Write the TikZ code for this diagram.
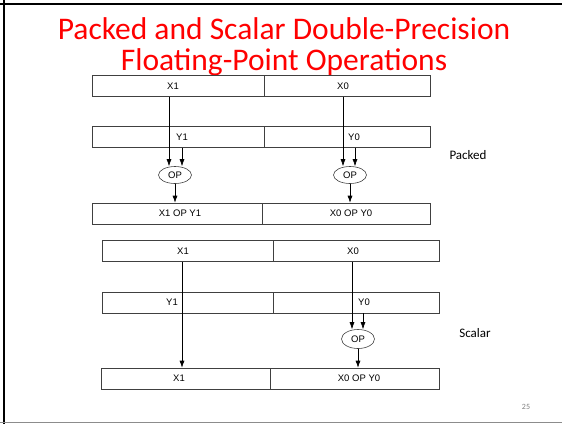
\documentclass[tikz,border=0pt]{standalone}
\usepackage{fontspec}
\setmainfont{Liberation Sans}
\newfontfamily\slidefont{Carlito}
\usetikzlibrary{shapes,arrows.meta}

\begin{document}
\begin{tikzpicture}[x=1pt,y=-1pt,
	cell/.style={draw=black!75,line width=0.6pt,minimum height=21pt,inner sep=0pt},
	celltext/.style={font=\fontsize{9.5}{11}\selectfont},
	opnode/.style={draw=black!75,line width=0.6pt,ellipse,minimum width=33pt,minimum height=17pt,inner sep=0pt,font=\fontsize{9.5}{11}\selectfont},
	arr/.style={line width=0.6pt,-{Latex[length=7pt,width=5pt]}}]
		\useasboundingbox (0,0) rectangle (562,424);
		\draw[line width=2pt] (0,3.7) -- (562,3.7);
		\draw[line width=2pt] (3.7,0) -- (3.7,424);
		\draw[line width=1.5pt,black!45] (0,422.7) -- (562,422.7);
		\node[anchor=base,red,font=\slidefont\fontsize{31.5}{34}\selectfont] (title1) at (284,39) {Packed and Scalar Double-Precision};
		\node[anchor=base,red,font=\slidefont\fontsize{31.5}{34}\selectfont] (title2) at (284,70) {Floating-Point Operations};
		\node[cell,minimum width=172pt] (px1) at (178,86) {};
		\node[cell,minimum width=166pt] (px0) at (347,86) {};
		\node[cell,minimum width=172pt] (py1) at (178,137) {};
		\node[cell,minimum width=166pt] (py0) at (347,137) {};
		\node[celltext] (tx1) at ([xshift=-5pt]px1.center) {X1};
		\node[celltext] (tx0) at ([xshift=-4pt]px0.center) {X0};
		\node[celltext] (ty1) at ([xshift=4pt]py1.center) {Y1};
		\node[celltext] (ty0) at ([xshift=7pt]py0.center) {Y0};
		\node[opnode] (opl) at (175,175) {OP};
		\node[opnode] (opr) at (350,175) {OP};
		\node[cell,minimum width=170pt] (pr1) at (177,213.5) {};
		\node[cell,minimum width=168pt] (pr0) at (346,213.5) {};
		\node[celltext] (tr1) at ([xshift=3pt]pr1.center) {X1 OP Y1};
		\node[celltext] (tr0) at ([xshift=5pt]pr0.center) {X0 OP Y0};
		\coordinate (a1) at ([xshift=-6pt]opl.north);
		\coordinate (b1) at ([xshift=7pt]opl.north);
		\coordinate (a0) at ([xshift=-7pt]opr.north);
		\coordinate (b0) at ([xshift=5pt]opr.north);
		\draw[arr] (a1 |- px1.south) -- (a1);
		\draw[arr] (b1 |- py1.south) -- (b1);
		\draw[arr] (a0 |- px0.south) -- (a0);
		\draw[arr] (b0 |- py0.south) -- (b0);
		\draw[arr] (opl.south) -- (opl.south |- pr1.north);
		\draw[arr] (opr.south) -- (opr.south |- pr0.north);
		\node[font=\slidefont\fontsize{13}{15}\selectfont] (packed) at (468,155) {Packed};
		\node[cell,minimum width=171pt] (sx1) at (187.5,251) {};
		\node[cell,minimum width=166pt] (sx0) at (356,251) {};
		\node[cell,minimum width=171pt] (sy1) at (187.5,302.5) {};
		\node[cell,minimum width=166pt] (sy0) at (356,302.5) {};
		\node[celltext] (ux1) at ([xshift=-4.5pt]sx1.center) {X1};
		\node[celltext] (ux0) at ([xshift=-3pt]sx0.center) {X0};
		\node[celltext] (uy1) at ([xshift=-15.5pt]sy1.center) {Y1};
		\node[celltext] (uy0) at ([xshift=8pt]sy0.center) {Y0};
		\node[opnode,minimum height=19pt] (ops) at (358,339) {OP};
		\node[cell,minimum width=169pt] (sr1) at (185.5,378.5) {};
		\node[cell,minimum width=169pt] (sr0) at (354.5,378.5) {};
		\node[celltext] (ur1) at ([xshift=-6.5pt]sr1.center) {X1};
		\node[celltext] (ur0) at ([xshift=4.5pt]sr0.center) {X0 OP Y0};
		\coordinate (c1) at ([xshift=-5.5pt]sx1.south);
		\coordinate (c0) at ([xshift=-6pt]ops.north);
		\coordinate (d0) at ([xshift=5pt]ops.north);
		\draw[arr] (c1) -- (c1 |- sr1.north);
		\draw[arr] (c0 |- sx0.south) -- (c0);
		\draw[arr] (d0 |- sy0.south) -- (d0);
		\draw[arr] (ops.south) -- (ops.south |- sr0.north);
		\node[font=\slidefont\fontsize{13}{15}\selectfont] (scalar) at (475,333) {Scalar};
		\node[black!50,font=\slidefont\fontsize{8}{10}\selectfont] (pagenum) at (526,407) {25};
\end{tikzpicture}
\end{document}
